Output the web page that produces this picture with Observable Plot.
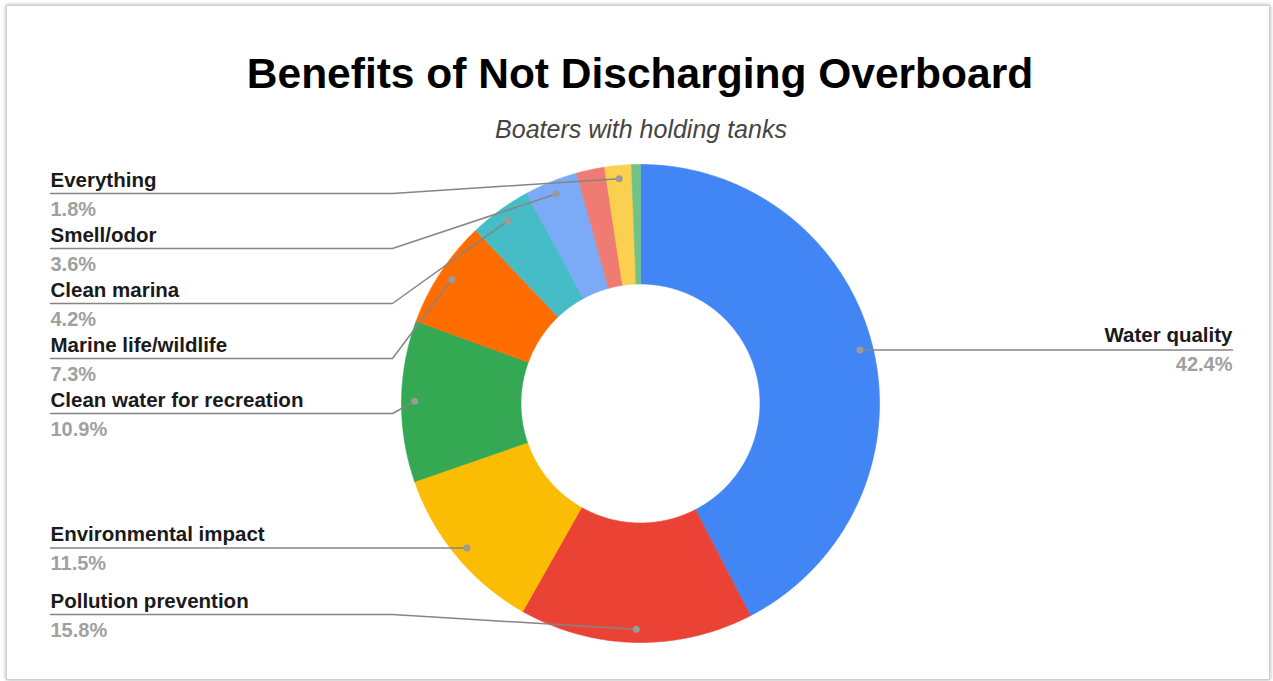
<!DOCTYPE html>
<html>
<head>
<meta charset="utf-8">
<script src="https://cdn.jsdelivr.net/npm/d3@7"></script>
<script src="https://cdn.jsdelivr.net/npm/@observablehq/plot@0.6"></script>
<style>
  html, body { margin: 0; padding: 0; background: #fff; width: 1273px; height: 681px; overflow: hidden;
    font-family: "Liberation Sans", Arial, sans-serif; }
  #frame { position: absolute; left: 6px; top: 5px; width: 1262px; height: 673px;
    border: 1px solid #cfcfcf; box-shadow: 0 0 4px rgba(0,0,0,0.35); background: #fff; }
  #title { position: absolute; left: 0; width: 1280px; top: 53px; text-align: center;
    font-weight: bold; font-size: 42.5px; line-height: 42px; color: #000; }
  #subtitle { position: absolute; left: 0; width: 1282px; top: 117px; text-align: center;
    font-style: italic; font-size: 25px; line-height: 25px; color: #444; }
  #chart { position: absolute; left: 0; top: 150px; }
</style>
</head>
<body>
<div id="frame"></div>
<div id="title">Benefits of Not Discharging Overboard</div>
<div id="subtitle">Boaters with holding tanks</div>
<div id="chart"></div>
<script>
// ---- data ----
const categories = ["Water quality", "Pollution prevention", "Environmental impact",
  "Clean water for recreation", "Marine life/wildlife", "Clean marina", "Smell/odor",
  "Unlabeled slice A", "Everything", "Unlabeled slice B"];
const values = [42.4, 15.8, 11.5, 10.9, 7.3, 4.2, 3.6, 1.9, 1.8, 0.6];
const colors = ["#4285F4", "#EA4335", "#FBBC04", "#34A853", "#FF6D01", "#46BDC6",
  "#7BAAF7", "#F07B72", "#FCD04F", "#71C287"];
const labelShown = [true, true, true, true, true, true, true, false, true, false];
const pctLabels = values.map(v => v.toFixed(1) + "%");

// ---- layout constants (pixels, relative to donut centre, y downward) ----
const R = 239, R0 = R * 0.5, dotR = R * 0.945;
const labelGap = 55, yTop = -210, yBottom = 211;
const leftX = -590, leftBendX = -248, rightX = 592, rightBendX = 248;

const pie = d3.pie().sort(null).value(d => d)(values);
const pt = (r, a) => ({x: r * Math.sin(a), y: -r * Math.cos(a)});

function slicePts(p) {
  const step = Math.PI / 360;
  const n = Math.max(2, Math.ceil((p.endAngle - p.startAngle) / step));
  const out = [];
  for (let k = 0; k <= n; k++) out.push(pt(R, p.startAngle + (p.endAngle - p.startAngle) * k / n));
  for (let k = n; k >= 0; k--) out.push(pt(R0, p.startAngle + (p.endAngle - p.startAngle) * k / n));
  out.push(out[0]);
  return out;
}

const labels = pie.map((p, i) => {
  const mid = (p.startAngle + p.endAngle) / 2;
  const d = pt(dotR, mid);
  return {i, name: categories[i], pct: pctLabels[i], dx: d.x, dy: d.y, side: d.x < 0 ? "left" : "right"};
}).filter(d => labelShown[d.i]);

for (const side of ["left", "right"]) {
  const s = labels.filter(d => d.side === side).sort((a, b) => a.dy - b.dy);
  let prev = -Infinity;
  for (const d of s) { d.ly = Math.max(d.dy, prev + labelGap, yTop); prev = d.ly; }
  let next = Infinity;
  for (let k = s.length - 1; k >= 0; k--) { s[k].ly = Math.min(s[k].ly, next - labelGap, yBottom); next = s[k].ly; }
}

const leaders = labels.flatMap(d => d.side === "left"
  ? [{name: d.name, x: leftX, y: d.ly}, {name: d.name, x: leftBendX, y: d.ly}, {name: d.name, x: d.dx, y: d.dy}]
  : [{name: d.name, x: d.dx, y: d.dy}, {name: d.name, x: Math.max(rightBendX, d.dx), y: d.ly}, {name: d.name, x: rightX, y: d.ly}]);

const leftL = labels.filter(d => d.side === "left");
const rightL = labels.filter(d => d.side === "right");
const font = "'Liberation Sans', Arial, sans-serif";

const chart = Plot.plot({
  width: 1273,
  height: 520,
  margin: 0,
  x: {domain: [-640, 633], axis: null},
  y: {domain: [-253, 267], reverse: true, axis: null},
  style: {background: "transparent", fontFamily: font},
  marks: [
    ...pie.map((p, i) => Plot.line(slicePts(p), {x: "x", y: "y", fill: colors[i], stroke: colors[i], strokeWidth: 0.6})),
    Plot.line(leaders, {x: "x", y: "y", z: "name", stroke: "#858585", strokeWidth: 1.5}),
    Plot.dot(labels, {x: "dx", y: "dy", r: 3.5, fill: "#9a9a9a"}),
    Plot.text(leftL, {x: () => leftX, y: "ly", text: "name", textAnchor: "start", lineAnchor: "bottom", dy: -7,
      fontSize: 20.5, fontWeight: "bold", fill: "#1a1a1a", fontFamily: font}),
    Plot.text(leftL, {x: () => leftX, y: "ly", text: "pct", textAnchor: "start", lineAnchor: "bottom", dy: 22,
      fontSize: 20, fontWeight: "bold", fill: "#a0a0a0", fontFamily: font}),
    Plot.text(rightL, {x: () => rightX, y: "ly", text: "name", textAnchor: "end", lineAnchor: "bottom", dy: -8,
      fontSize: 20.5, fontWeight: "bold", fill: "#1a1a1a", fontFamily: font}),
    Plot.text(rightL, {x: () => rightX, y: "ly", text: "pct", textAnchor: "end", lineAnchor: "bottom", dy: 21,
      fontSize: 20, fontWeight: "bold", fill: "#a0a0a0", fontFamily: font})
  ]
});
document.getElementById("chart").appendChild(chart);
</script>
</body>
</html>
